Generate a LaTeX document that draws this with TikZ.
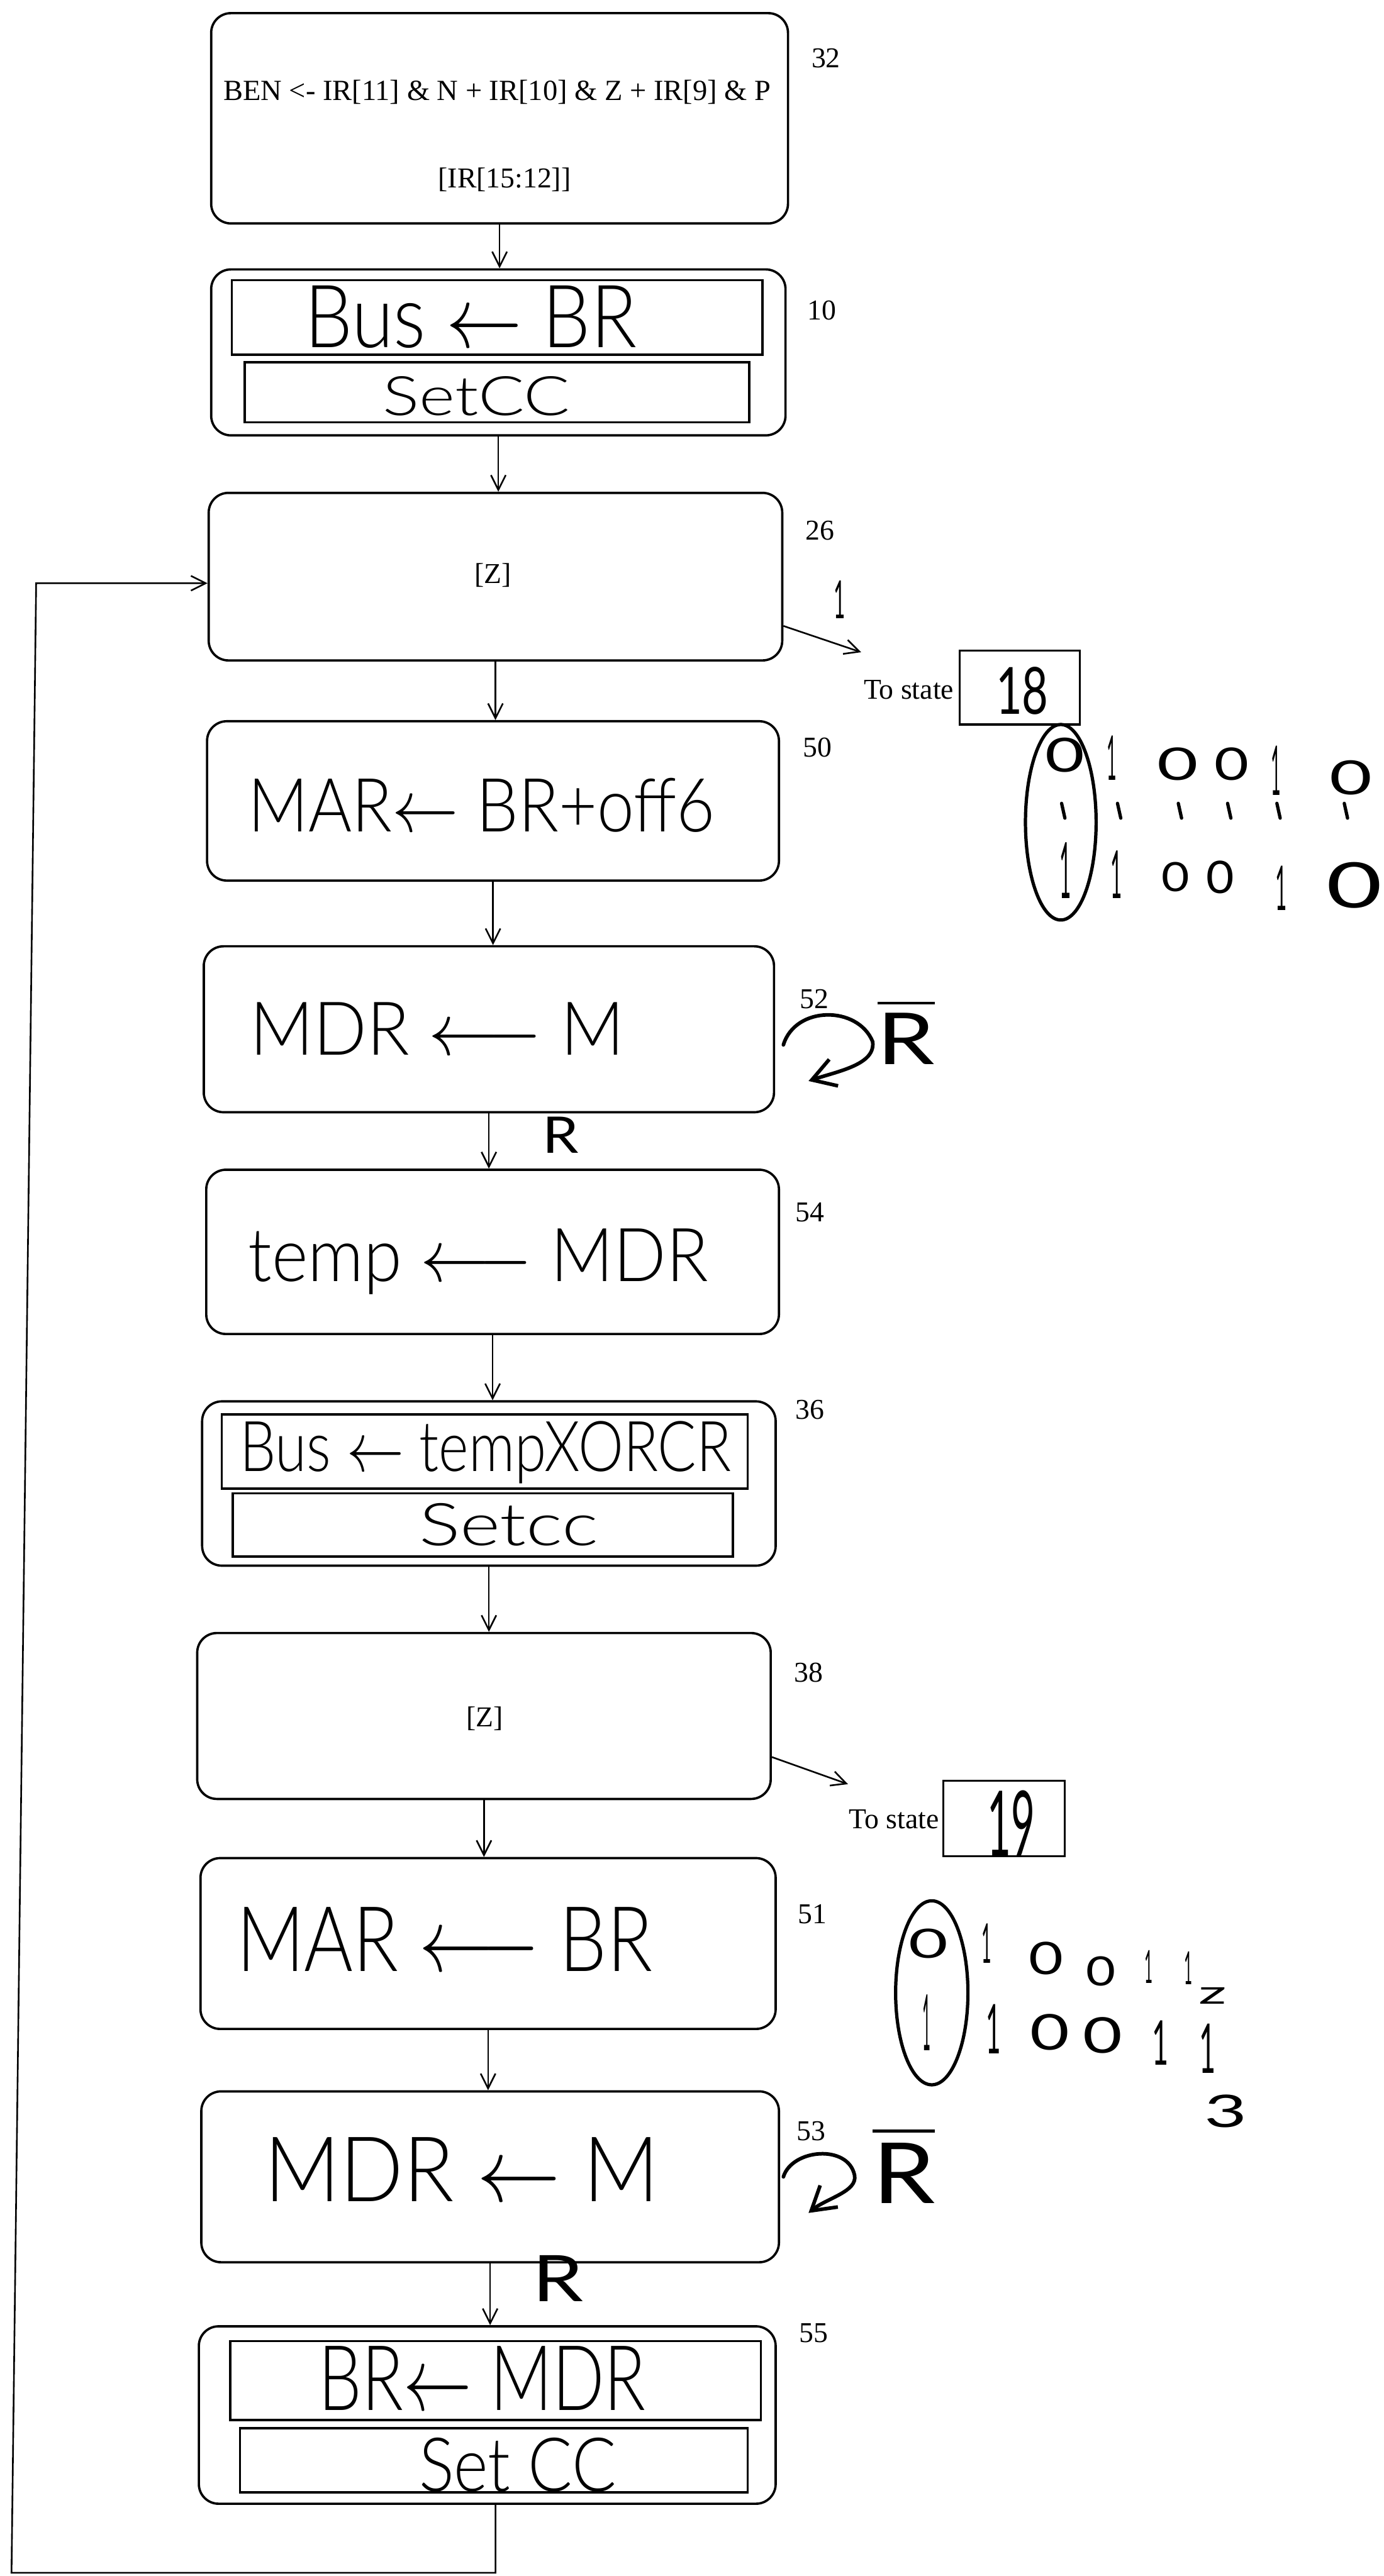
\documentclass[tikz,border=0pt]{standalone}
\usepackage{graphicx}
\usepackage{fontspec}
\setmainfont{Liberation Serif}
\newfontfamily\handfont{Lato}
\newfontfamily\lightfont{Lato Light}
\usetikzlibrary{arrows.meta}
\newcommand{\handtext}[3]{\resizebox*{#1pt}{#2pt}{\handfont #3}}
\newcommand{\lighttext}[3]{\resizebox*{#1pt}{#2pt}{\lightfont #3}}
\begin{document}
\begin{tikzpicture}[x=1pt,y=-1pt,
  state/.style={draw, rounded corners=12pt, line width=1.4pt, inner sep=0pt},
  inbox/.style={draw, line width=1.4pt, inner sep=0pt},
  tobox/.style={draw, line width=1.2pt, inner sep=0pt},
  serif/.style={inner sep=0pt, font=\fontsize{17.5}{20}\selectfont},
  hand/.style={inner sep=0pt},
  conn/.style={line width=1pt, -{Straight Barb[length=9pt,width=9pt]}},
  loopy/.style={line width=2.2pt, line cap=round, -{Straight Barb[length=14pt,width=17pt]}},
  pen/.style={line width=2pt, line cap=round}]
\fill[white] (0,0) rectangle (842,1568);
\useasboundingbox (0,0) rectangle (842,1568);

% state 32
\node[state, minimum width=351pt, minimum height=128pt] (n32) at (304,72) {};
\node[inner sep=0pt, font=\fontsize{17.8}{20}\selectfont] (t32a) at (302.5,56) {BEN <- IR[11] \& N + IR[10] \& Z + IR[9] \& P};
\node[serif] (t32b) at (307,109.3) {[IR[15:12]]};
\node[serif] (l32) at (502.6,35.5) {32};

% state 10
\node[state, minimum width=349.5pt, minimum height=101pt] (n10) at (303.25,214.5) {};
\node[inbox, minimum width=323pt, minimum height=45.5pt] (n10a) at (302.5,193.25) {};
\node[inbox, minimum width=307pt, minimum height=36.4pt] (n10b) at (302.5,238.8) {};
\node[hand] (t10a) at (286.5,193) {\lighttext{202}{38}{Bus $\leftarrow$ BR}};
\node[hand] (t10b) at (290,241) {\lighttext{114}{24}{SetCC}};
\node[serif] (l10) at (500,189) {10};

% state 26
\node[state, minimum width=349pt, minimum height=102pt] (n26) at (301.5,351) {};
\node[serif] (t26) at (300,350) {[Z]};
\node[serif] (l26) at (499,323) {26};

% state 50
\node[state, minimum width=348pt, minimum height=97pt] (n50) at (300,487.5) {};
\node[hand] (t50) at (293,490) {\lighttext{284}{33}{MAR$\leftarrow$ BR+off6}};
\node[serif] (l50) at (497.5,455) {50};

% state 52
\node[state, minimum width=347pt, minimum height=101pt] (n52) at (297.5,626.5) {};
\node[hand] (t52) at (266,626) {\lighttext{228}{32}{MDR $\longleftarrow$ M}};
\node[serif] (l52) at (495.5,608) {52};

% state 54
\node[state, minimum width=348.5pt, minimum height=100pt] (n54) at (299.75,762) {};
\node[hand] (t54) at (291,768) {\lighttext{280}{40}{temp $\longleftarrow$ MDR}};
\node[serif] (l54) at (493,738) {54};

% state 36
\node[state, minimum width=349pt, minimum height=100pt] (n36) at (297.5,903) {};
\node[inbox, minimum width=320pt, minimum height=45pt] (n36a) at (295,883.5) {};
\node[inbox, minimum width=304.4pt, minimum height=38.5pt] (n36b) at (293.8,928.25) {};
\node[hand] (t36a) at (295.5,884) {\lighttext{299}{38}{Bus $\leftarrow$ tempXORCR}};
\node[hand] (t36b) at (309.5,928) {\lighttext{109}{26}{Setcc}};
\node[serif] (l36) at (493,858) {36};

% state 38
\node[state, minimum width=349pt, minimum height=101pt] (n38) at (294.5,1044.5) {};
\node[serif] (t38) at (295,1046) {[Z]};
\node[serif] (l38) at (492,1018) {38};

% state 51
\node[state, minimum width=350pt, minimum height=104pt] (n51) at (297,1183) {};
\node[hand] (t51) at (270.5,1180.5) {\lighttext{253}{39}{MAR $\longleftarrow$ BR}};
\node[serif] (l51) at (494.5,1165) {51};

% state 53
\node[state, minimum width=351.5pt, minimum height=104pt] (n53) at (298.25,1325) {};
\node[hand] (t53) at (281,1320.5) {\lighttext{240}{39}{MDR $\leftarrow$ M}};
\node[serif] (l53) at (493.5,1297) {53};

% state 55
\node[state, minimum width=351pt, minimum height=108pt] (n55) at (296.5,1470) {};
\node[inbox, minimum width=323pt, minimum height=48pt] (n55a) at (301.5,1449) {};
\node[inbox, minimum width=309pt, minimum height=39pt] (n55b) at (300.5,1497.5) {};
\node[hand] (t55a) at (293.5,1447.5) {\lighttext{199}{39}{BR$\leftarrow$ MDR}};
\node[hand] (t55b) at (315,1500.5) {\lighttext{120}{33}{Set CC}};
\node[serif] (l55) at (495,1420) {55};

% vertical connectors
\draw[conn] (n32.south) -- (n32.south |- n10.north);
\draw[conn] (n10.south) -- (n10.south |- n26.north);
\draw[conn] (n26.south) -- (n26.south |- n50.north);
\draw[conn] (n50.south) -- (n50.south |- n52.north);
\draw[conn] (n52.south) -- (n52.south |- n54.north);
\draw[conn] (n54.south) -- (n54.south |- n36.north);
\draw[conn] (n36.south) -- (n36.south |- n38.north);
\draw[conn] (n38.south) -- (n38.south |- n51.north);
\draw[conn] (n51.south) -- (n51.south |- n53.north);
\draw[conn] (n53.south) -- (n53.south |- n55.north);

\node[hand] (r52) at (341,691) {\handtext{22}{22}{R}};
\node[hand] (r53) at (339.5,1387) {\handtext{31}{28}{R}};

% loop back to 26
\coordinate (lb) at (7,1566);
\coordinate (lt) at (22,355);
\coordinate (s55) at ([xshift=5pt]n55.south);
\draw[conn] (s55) -- (s55 |- lb) -- (lb) -- (lt) -- (lt -| n26.west);

% exit from 26
\coordinate (e26) at (524,397);
\draw[conn] ([yshift=-30pt]n26.east) -- (e26);
\node[hand] (one) at (511,365) {\handtext{7}{23}{1}};
\node[serif] (ts18) at (553,420) {To state};
\node[tobox, minimum width=73pt, minimum height=45pt] (s18) at (620.5,418.5) {};
\node[hand] (t18) at (622,420.5) {\handtext{32}{29}{18}};

% exit from 38
\coordinate (e38) at (516,1086);
\draw[conn] ([yshift=-25pt]n38.east) -- (e38);
\node[serif] (ts19) at (544,1107.5) {To state};
\node[tobox, minimum width=74pt, minimum height=46pt] (s19) at (611,1107) {};
\node[hand] (t19) at (615.5,1110) {\handtext{29}{40}{19}};

% self loops
\coordinate (a52) at ([xshift=5pt,yshift=-9.5pt]n52.east);
\draw[loopy] (a52) .. controls (484,612) and (522,612) .. (531,634) .. controls (533,648) and (510,652) .. (492,658);
\node[hand] (rb52) at (551.5,628) {\handtext{35}{40}{$\overline{\mbox{R}}$}};
\coordinate (a53) at ([xshift=2pt]n53.east);
\draw[loopy] (a53) .. controls (482,1308) and (516,1305) .. (520,1324) .. controls (522,1334) and (503,1338) .. (492,1347);
\node[hand] (rb53) at (550,1317.5) {\handtext{38}{47}{$\overline{\mbox{R}}$}};

% bit patterns, group 1
\draw[pen] (645.5,500.5) ellipse [x radius=21.5pt, y radius=59.5pt];
\foreach \x/\y/\w/\h/\d [count=\i] in {648/459.5/24/21/0, 676.5/461.5/6/27/1, 716.5/465/25/20/0, 749.5/465/21/20/0, 776.5/469/6/30/1, 822/473.5/26/21/0,
  648.5/530/7/34/1, 679.5/532.5/7/29/1, 715.5/534/17/18/0, 742.5/534/17/20/0, 779.5/540.5/7/27/1, 824/539/34/28/0}
  \node[hand] (ga\i) at (\x,\y) {\handtext{\w}{\h}{\d}};
\foreach \x in {647,681,718,748,778,819}
  \draw[pen] (\x-1,489) -- (\x+1,498);

% bit patterns, group 2
\draw[pen] (567,1213) ellipse [x radius=22pt, y radius=56pt];
\foreach \x/\y/\w/\h/\d [count=\i] in {565/1183/24/18/0, 600.5/1183/6/24/1, 636.5/1192/21/20/0, 670/1200/18/18/0, 699/1197/5/20/1, 723/1198/5/20/1,
  564/1231/5/34/1, 604.5/1235/9/30/1, 639/1237/24/22/0, 671/1239/24/22/0, 706/1243.5/10/27/1, 735/1247/10/30/1}
  \node[hand] (gb\i) at (\x,\y) {\handtext{\w}{\h}{\d}};
\node[hand] (gbz) at (738,1215) {\handtext{17}{10}{z}};
\node[hand] (gb3) at (746,1285) {\handtext{26}{20}{3}};
\end{tikzpicture}
\end{document}
